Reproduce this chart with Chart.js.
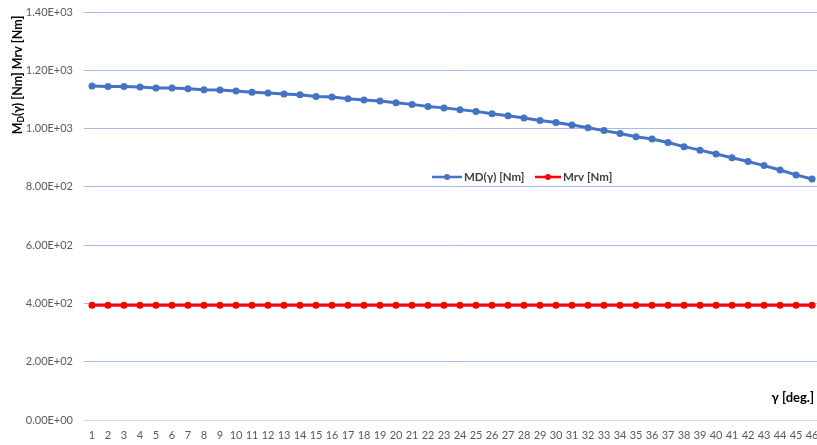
<!DOCTYPE html>
<html>
<head>
<meta charset="utf-8">
<script src="https://cdn.jsdelivr.net/npm/chart.js@4/dist/chart.umd.min.js"></script>
<style>
  html, body { margin: 0; padding: 0; background: #fff; }
  #wrap { width: 817px; height: 445px; }
</style>
</head>
<body>
<div id="wrap"><canvas id="c" width="817" height="445"></canvas></div>
<script>
// Angle steps γ [deg.]
const angles = Array.from({ length: 46 }, (_, i) => i + 1);

// Driving moment MD(γ) [Nm]
const mdValues = [
  1146, 1144, 1144, 1143, 1139, 1139, 1137, 1133, 1132, 1129,
  1125, 1122, 1119, 1116, 1110, 1108, 1102, 1098, 1095, 1089,
  1083, 1076, 1071, 1065, 1059, 1051, 1044, 1036, 1028, 1021,
  1012, 1003, 993, 983, 972, 964, 952, 938, 926, 913,
  900, 887, 873, 858, 841, 827
];

// Resisting moment Mrv [Nm]
const mrvValues = Array.from({ length: 46 }, () => 394);

// Y axis ticks
const yTicks = [0, 200, 400, 600, 800, 1000, 1200, 1400];

const BLUE = '#4472C4';
const RED = '#FF0000';
const FONT = 'Lato, "Open Sans", sans-serif';

const toPoints = (vals) => vals.map((v, i) => ({ x: angles[i], y: v }));

function sci(v) {
  if (v === 0) return '0.00E+00';
  const e = Math.floor(Math.log10(Math.abs(v)));
  const m = v / Math.pow(10, e);
  const sign = e < 0 ? '-' : '+';
  return m.toFixed(2) + 'E' + sign + String(Math.abs(e)).padStart(2, '0');
}

// Extra text: rotated y title with subscript, x title, inline legend
const annotations = {
  id: 'annotations',
  afterDraw(chart) {
    const ctx = chart.ctx;
    ctx.save();

    // Y axis title "MD(γ) [Nm] Mrv [Nm]" with subscript D
    ctx.translate(18, 75);
    ctx.rotate(-Math.PI / 2);
    ctx.fillStyle = '#000';
    ctx.textBaseline = 'middle';
    const big = 'bold 12.5px ' + FONT;
    const small = 'bold 8.5px ' + FONT;
    const parts = [['M', big, 0], ['D', small, 3], ['(γ) [Nm] Mrv [Nm]', big, 0]];
    let total = 0;
    parts.forEach(p => { ctx.font = p[1]; total += ctx.measureText(p[0]).width; });
    let x = -total / 2;
    ctx.textAlign = 'left';
    parts.forEach(p => {
      ctx.font = p[1];
      ctx.fillText(p[0], x, p[2]);
      x += ctx.measureText(p[0]).width;
    });
    ctx.restore();

    // X axis title
    ctx.save();
    ctx.font = 'bold 13px ' + FONT;
    ctx.fillStyle = '#000';
    ctx.textAlign = 'right';
    ctx.textBaseline = 'middle';
    ctx.fillText('γ [deg.]', 814, 398);
    ctx.restore();

    // Legend inside the plot
    ctx.save();
    const ly = 177;
    const items = [
      { label: 'MD(γ) [Nm]', color: BLUE, x0: 432, x1: 462 },
      { label: 'Mrv [Nm]', color: RED, x0: 535, x1: 561 }
    ];
    items.forEach(it => {
      ctx.strokeStyle = it.color;
      ctx.lineWidth = 2.5;
      ctx.beginPath();
      ctx.moveTo(it.x0, ly);
      ctx.lineTo(it.x1, ly);
      ctx.stroke();
      ctx.fillStyle = it.color;
      ctx.beginPath();
      ctx.arc((it.x0 + it.x1) / 2, ly, 3, 0, Math.PI * 2);
      ctx.fill();
      ctx.font = 'bold 11.5px ' + FONT;
      ctx.fillStyle = '#404040';
      ctx.textAlign = 'left';
      ctx.textBaseline = 'middle';
      ctx.fillText(it.label, it.x1 + 2, ly);
    });
    ctx.restore();
  }
};

new Chart(document.getElementById('c'), {
  type: 'line',
  data: {
    datasets: [
      {
        label: 'MD(γ) [Nm]',
        data: toPoints(mdValues),
        borderColor: BLUE,
        backgroundColor: BLUE,
        borderWidth: 3,
        pointRadius: 3.5,
        pointBorderWidth: 0,
        pointBackgroundColor: BLUE,
        tension: 0
      },
      {
        label: 'Mrv [Nm]',
        data: toPoints(mrvValues),
        borderColor: RED,
        backgroundColor: RED,
        borderWidth: 3,
        pointRadius: 3.5,
        pointBorderWidth: 0,
        pointBackgroundColor: RED,
        tension: 0
      }
    ]
  },
  options: {
    responsive: false,
    animation: false,
    devicePixelRatio: 1,
    layout: { autoPadding: false, padding: { top: 12, right: 0, bottom: 0, left: 0 } },
    plugins: {
      legend: { display: false },
      tooltip: { enabled: false },
      title: { display: false }
    },
    scales: {
      x: {
        type: 'linear',
        min: 0.5,
        max: 46.31,
        afterBuildTicks(scale) { scale.ticks = angles.map(v => ({ value: v })); },
        grid: { display: false, drawTicks: false },
        border: { display: false },
        ticks: {
          autoSkip: false,
          maxRotation: 0,
          minRotation: 0,
          color: '#595959',
          font: { family: FONT, size: 11 },
          padding: 9,
          callback: (v) => String(v)
        },
        afterFit(scale) {
          scale.height = 25;
          scale.paddingLeft = 0;
          scale.paddingRight = 0;
        }
      },
      y: {
        min: 0,
        max: 1400,
        afterBuildTicks(scale) { scale.ticks = yTicks.map(v => ({ value: v })); },
        grid: {
          color: (c) => c.tick && c.tick.value === 0 ? '#d9d9d9' : '#a4bde6',
          lineWidth: 1,
          drawTicks: false
        },
        border: { display: false },
        ticks: {
          color: '#595959',
          font: { family: FONT, size: 11 },
          padding: 11,
          callback: (v) => sci(v)
        },
        afterFit(scale) {
          scale.width = 84;
          scale.paddingTop = 0;
          scale.paddingBottom = 0;
        }
      }
    }
  },
  plugins: [annotations]
});
</script>
</body>
</html>
